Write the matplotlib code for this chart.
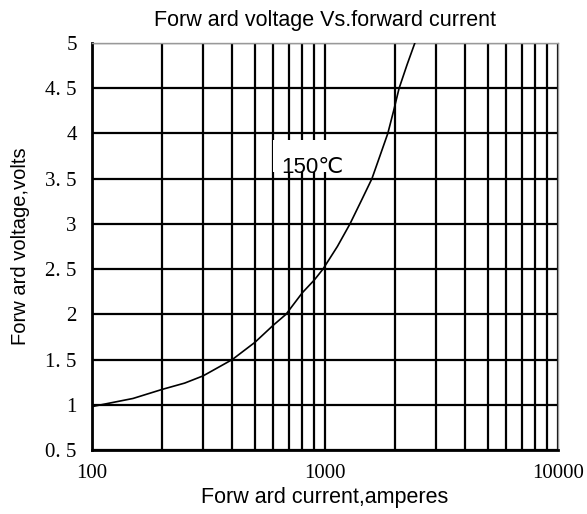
import numpy as np
import matplotlib.pyplot as plt
from matplotlib.patches import Rectangle
from matplotlib.ticker import FixedLocator, LogLocator, NullFormatter

# forward current (A) and forward voltage (V)
current = [100, 150, 200, 250, 300, 400, 500, 600, 680, 800, 900, 980, 1130, 1280,
           1440, 1590, 1720, 1860, 1970, 2080, 2250, 2430]
voltage = [0.98, 1.07, 1.17, 1.24, 1.32, 1.5, 1.69, 1.88, 2.0, 2.24, 2.38, 2.5, 2.75, 3.0,
           3.27, 3.5, 3.75, 4.0, 4.25, 4.5, 4.76, 5.0]

x_ticks = [100, 1000, 10000]
x_labels = ["100", "1000", "10000"]
y_ticks = [0.5, 1, 1.5, 2, 2.5, 3, 3.5, 4, 4.5, 5]
y_labels = ["0. 5", "1", "1. 5", "2", "2. 5", "3", "3. 5", "4", "4. 5", "5"]

sans = ["Liberation Sans", "DejaVu Sans"]
serif = "Liberation Serif"

fig = plt.figure(figsize=(5.87, 5.14), dpi=100)
ax = fig.add_axes([0.1567, 0.1245, 0.7939, 0.7918])

ax.set_xscale("log")
ax.set_xlim(100, 10000)
ax.set_ylim(0.5, 5)

ax.xaxis.set_major_locator(FixedLocator(x_ticks))
ax.xaxis.set_minor_locator(LogLocator(base=10, subs=np.arange(2, 10)))
ax.xaxis.set_minor_formatter(NullFormatter())
ax.set_xticks(x_ticks)
ax.set_xticklabels(x_labels, fontfamily=serif, fontsize=15)
ax.set_yticks(y_ticks)
ax.set_yticklabels(y_labels, fontfamily=serif, fontsize=15)
ax.tick_params(which="both", length=0)
ax.tick_params(axis="x", pad=10)
ax.tick_params(axis="y", pad=11)

ax.grid(which="both", color="black", linewidth=1.6)

for s in ["left", "bottom"]:
    ax.spines[s].set_linewidth(2)
    ax.spines[s].set_color("black")
for s in ["top", "right"]:
    ax.spines[s].set_linewidth(1)
    ax.spines[s].set_color("#999999")

ax.plot(current, voltage, color="black", linewidth=1.2, zorder=3)

# white patch behind the curve label
ax.add_patch(Rectangle((600, 3.57), 1250 - 600, 0.36, facecolor="white",
                       edgecolor="none", zorder=2.5))
ax.text(880, 3.56, "150\u2103", family=sans, fontsize=16, ha="center", va="baseline",
        zorder=4)

ax.set_title("Forw ard voltage Vs.forward current", family=sans, fontsize=15.5, pad=12)
ax.set_xlabel("Forw ard current,amperes", family=sans, fontsize=15.5, labelpad=3)
ax.set_ylabel("Forw ard voltage,volts", family=sans, fontsize=14.5, labelpad=11)

fig.savefig("out.png", dpi=100)
